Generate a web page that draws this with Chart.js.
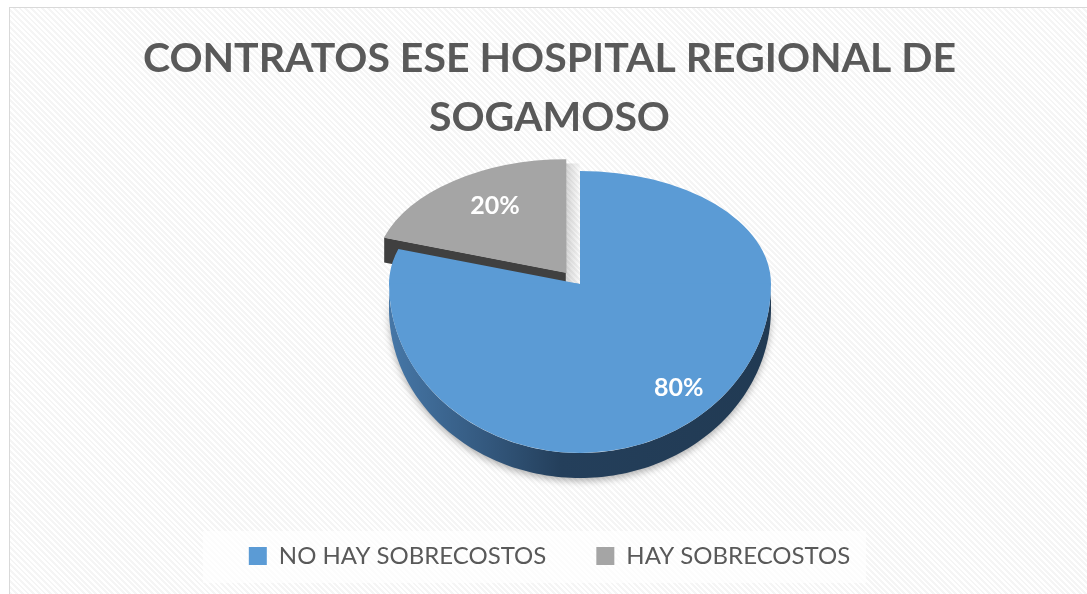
<!DOCTYPE html>
<html>
<head>
<meta charset="utf-8">
<script src="https://cdn.jsdelivr.net/npm/chart.js@4/dist/chart.umd.min.js"></script>
<style>
  body { margin: 0; background: #fff; }
  .frame {
    position: absolute; left: 9px; top: 7px; width: 1090px; height: 600px;
    border: 1px solid #d9d9d9;
    background: repeating-linear-gradient(45deg, #ffffff 0 2px, #f5f5f5 2px 4px);
  }
  #myChart { position: absolute; left: 1px; top: 1px; }
</style>
</head>
<body>
<div class="frame"><canvas id="myChart" width="1077" height="586"></canvas></div>
<script>
// data
let labels = ["NO HAY SOBRECOSTOS", "HAY SOBRECOSTOS"];
let values = [80, 20];
let titleLines = ["CONTRATOS ESE HOSPITAL REGIONAL DE", "SOGAMOSO"];

let sliceColors = ["#5b9bd5", "#a5a5a5"];
let sideColors = ["#23405c", "#404040"];

// fake 3d: top face is squashed, a bit more in the back than in the front
let CX = 569, CY = 275, RX = 191, RY_TOP = 113, RY_BOT = 169, DEPTH = 25;
let LABEL_FX = [0.88, 0.63];
let LABEL_FY = [0.76, 0.73];

function proj(arc, px, py) {
  let k = RX / arc.outerRadius;
  let ky = (py < 0 ? RY_TOP : RY_BOT) / arc.outerRadius;
  return [CX + px * k, CY + py * ky];
}

function arcOffset(arc) {
  let off = (arc.options.offset || 0) / 4;
  let fix = 1 - Math.sin(Math.min(Math.PI, arc.circumference || 0));
  let mid = (arc.startAngle + arc.endAngle) / 2;
  let d = off * (1 + fix);
  return [Math.cos(mid) * d, Math.sin(mid) * d];
}

function fillWall(ctx, top, style) {
  ctx.beginPath();
  top.forEach((p, i) => i ? ctx.lineTo(p[0], p[1]) : ctx.moveTo(p[0], p[1]));
  for (let i = top.length - 1; i >= 0; i--) ctx.lineTo(top[i][0], top[i][1] + DEPTH);
  ctx.closePath();
  ctx.fillStyle = style;
  ctx.fill();
}

let pie3d = {
  id: "pie3d",
  beforeDatasetsDraw(chart) {
    let ctx = chart.ctx;
    let arcs = chart.getDatasetMeta(0).data;
    let R = arcs[0].outerRadius;

    // side walls
    arcs.forEach((arc, i) => {
      let [ox, oy] = arcOffset(arc);
      let a0 = arc.startAngle, a1 = arc.endAngle;
      let style = sideColors[i];
      if (i == 0) {
        let g = ctx.createLinearGradient(CX - RX, 0, CX + RX, 0);
        g.addColorStop(0, "#4677a7");
        g.addColorStop(0.25, "#34597f");
        g.addColorStop(0.45, "#243f5b");
        g.addColorStop(1, "#213a53");
        style = g;
      }
      // outer front wall
      let seg = [];
      let n = 200;
      for (let s = 0; s <= n; s++) {
        let t = a0 + (a1 - a0) * s / n;
        if (Math.sin(t) >= -0.001) {
          seg.push(proj(arc, ox + R * Math.cos(t), oy + R * Math.sin(t)));
        } else if (seg.length) {
          ctx.save();
          ctx.shadowColor = "rgba(0,0,0,0.3)"; ctx.shadowBlur = 7; ctx.shadowOffsetY = 3;
          fillWall(ctx, seg, style); ctx.restore(); seg = [];
        }
      }
      if (seg.length > 1) {
        ctx.save();
        ctx.shadowColor = "rgba(0,0,0,0.3)"; ctx.shadowBlur = 7; ctx.shadowOffsetY = 3;
        fillWall(ctx, seg, style);
        ctx.restore();
      }
      // radial edges facing the viewer
      [[a0, Math.cos(a0) < -0.01], [a1, Math.cos(a1) > 0.01]].forEach(([t, vis]) => {
        if (!vis) return;
        let pts = [proj(arc, ox, oy), proj(arc, ox + R * Math.cos(t), oy + R * Math.sin(t))];
        fillWall(ctx, pts, sideColors[i]);
      });
    });

    // soft shadow in the gap right of the pulled out slice
    let gray = arcs[1];
    let [gx, gy] = arcOffset(gray);
    let p0 = proj(gray, gx, gy), p1 = proj(gray, gx, gy - R);
    let sg = ctx.createLinearGradient(p0[0], 0, p0[0] + 14, 0);
    sg.addColorStop(0, "rgba(0,0,0,0.16)");
    sg.addColorStop(1, "rgba(0,0,0,0.02)");
    ctx.fillStyle = sg;
    ctx.fillRect(p0[0], p1[1] + 4, 14, p0[1] - p1[1] + 8);

    // top faces, drawn by the arc elements themselves
    [[0, CY, RY_TOP], [CY, chart.height, RY_BOT]].forEach(([y0, y1, ry]) => {
      ctx.save();
      ctx.beginPath();
      ctx.rect(0, y0 - 0.5, chart.width, y1 - y0 + 1);
      ctx.clip();
      ctx.translate(CX, CY);
      ctx.scale(RX / R, ry / R);
      ctx.translate(-arcs[0].x, -arcs[0].y);
      arcs.forEach(a => a.draw(ctx));
      ctx.restore();
    });

    // percentage labels
    let total = values.reduce((a, b) => a + b, 0);
    ctx.save();
    ctx.fillStyle = "#ffffff";
    ctx.font = "bold 25px Lato";
    ctx.textAlign = "center";
    ctx.textBaseline = "middle";
    arcs.forEach((arc, i) => {
      let [ox, oy] = arcOffset(arc);
      let mid = (arc.startAngle + arc.endAngle) / 2;
      let px = proj(arc, ox + R * LABEL_FX[i] * Math.cos(mid), 0)[0];
      let py = proj(arc, 0, oy + R * LABEL_FY[i] * Math.sin(mid))[1];
      ctx.fillText(Math.round(values[i] / total * 100) + "%", px, py);
    });
    ctx.restore();
    return false;
  },
  beforeDraw(chart) {
    // lighter panel behind the legend
    let boxes = chart.legend.legendHitBoxes;
    if (!boxes || !boxes.length) return;
    let l = Math.min(...boxes.map(b => b.left)) - 46;
    let r = Math.max(...boxes.map(b => b.left + b.width)) + 16;
    let mid = boxes[0].top + boxes[0].height / 2;
    chart.ctx.save();
    chart.ctx.fillStyle = "rgba(255,255,255,0.7)";
    chart.ctx.fillRect(l, mid - 25, r - l, 52);
    chart.ctx.restore();
  }
};

new Chart("myChart", {
  type: "pie",
  data: {
    labels: labels,
    datasets: [{
      data: values,
      backgroundColor: sliceColors,
      borderWidth: 0,
      offset: [0, 92],
      radius: 191
    }]
  },
  options: {
    responsive: false,
    animation: false,
    layout: { padding: { bottom: 17 } },
    plugins: {
      title: {
        display: true,
        text: titleLines,
        color: "#595959",
        font: { family: "Lato", weight: "bold", size: 41, lineHeight: 1.42 },
        padding: { top: 21, bottom: 10 }
      },
      legend: {
        position: "bottom",
        labels: {
          color: "#595959",
          font: { family: "Lato", size: 24 },
          boxWidth: 18,
          boxHeight: 18,
          padding: 50
        }
      },
      tooltip: { enabled: false }
    }
  },
  plugins: [pie3d]
});
</script>
</body>
</html>
